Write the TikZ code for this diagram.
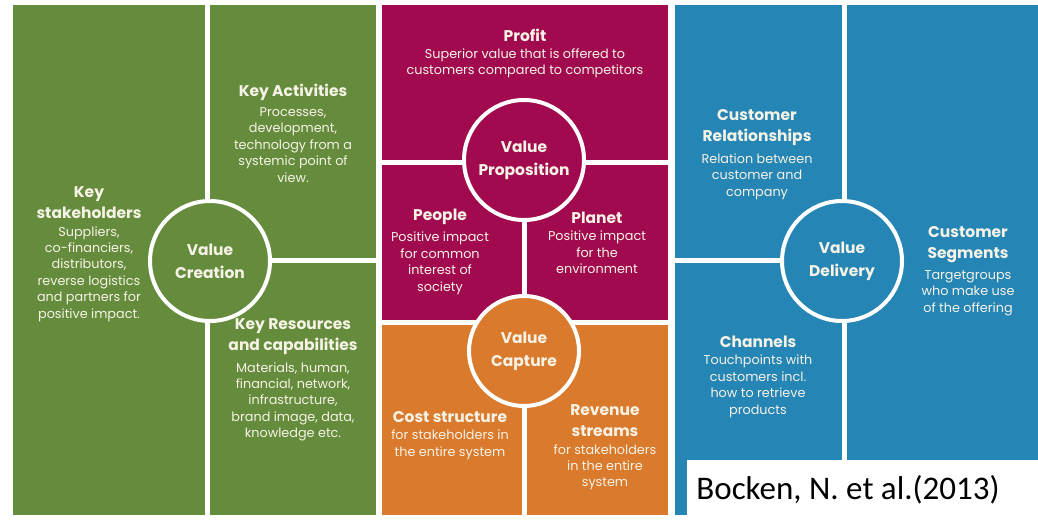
\documentclass[tikz,border=0pt]{standalone}
\usepackage{fontspec}
\setmainfont{Poppins}
\newfontfamily\citefont{Carlito}
\usetikzlibrary{positioning}
\definecolor{creationgreen}{HTML}{658C3D}
\definecolor{propmagenta}{HTML}{A10A4F}
\definecolor{captureorange}{HTML}{DA7A2C}
\definecolor{deliveryblue}{HTML}{2585B5}
\definecolor{lighttext}{HTML}{F6F3E6}
\tikzstyle{hub} = [circle, draw=white, line width=4pt, inner sep=0pt, minimum size=120pt,
align=center, text=lighttext, font=\bfseries\fontsize{15.5}{23}\selectfont]
\tikzstyle{head} = [align=center, inner sep=0pt, text=lighttext, font=\bfseries\fontsize{15.5}{21}\selectfont]
\tikzstyle{body} = [align=center, inner sep=0pt, text=lighttext, font=\fontsize{12.8}{16.4}\selectfont]

\begin{document}
\begin{tikzpicture}[x=1pt, y=-1pt]
    \useasboundingbox (0,0) rectangle (1038,520);

    % Fields
    \fill[creationgreen] (13,5) rectangle (205,515);
    \fill[creationgreen] (210,5) rectangle (376,258);
    \fill[creationgreen] (210,263) rectangle (376,515);
    \fill[propmagenta] (382,5) rectangle (668,160);
    \fill[propmagenta] (382,165) rectangle (522,320);
    \fill[propmagenta] (527,165) rectangle (668,320);
    \fill[captureorange] (382,325) rectangle (522,515);
    \fill[captureorange] (527,325) rectangle (668,515);
    \fill[deliveryblue] (675,5) rectangle (842,258);
    \fill[deliveryblue] (675,263) rectangle (842,515);
    \fill[deliveryblue] (847,5) rectangle (1038,515);

    % Circles
    \node [hub, fill=creationgreen] (creation) at (210,261) {Value\\Creation};
    \node [hub, fill=propmagenta] (proposition) at (524,160) {Value\\Proposition};
    \node [hub, fill=captureorange, minimum size=110pt] (capture) at (524,351) {Value\\Capture};
    \node [hub, fill=deliveryblue] (delivery) at (842,261) {Value\\Delivery};

    % Texts
    \node [head] (stakeholders) at (89,203) {Key\\stakeholders};
    \node [body, below=7pt of stakeholders] (stakeholderstxt) {Suppliers,\\co-financiers,\\distributors,\\reverse logistics\\and partners for\\positive impact.};
    \node [head] (activities) at (293,92) {Key Activities};
    \node [body, below=7pt of activities] (activitiestxt) {Processes,\\development,\\technology from a\\systemic point of\\view.};
    \node [head] (resources) at (293,337) {Key Resources\\and capabilities};
    \node [body, below=7pt of resources] (resourcestxt) {Materials, human,\\financial, network,\\infrastructure,\\brand image, data,\\knowledge etc.};
    \node [head] (profit) at (525,35) {Profit};
    \node [body, below=7pt of profit] (profittxt) {Superior value that is offered to\\customers compared to competitors};
    \node [head] (people) at (440,217) {People};
    \node [body, below=7pt of people] (peopletxt) {Positive impact\\for common\\interest of\\society};
    \node [head] (planet) at (597,218) {Planet};
    \node [body, below=7pt of planet] (planettxt) {Positive impact\\for the\\environment};
    \node [head] (cost) at (450,417) {Cost structure};
    \node [body, below=7pt of cost] (costtxt) {for stakeholders in\\the entire system};
    \node [head] (revenue) at (605,421) {Revenue\\streams};
    \node [body, below=7pt of revenue] (revenuetxt) {for stakeholders\\in the entire\\system};
    \node [head] (relationships) at (757,128) {Customer\\Relationships};
    \node [body, below=7pt of relationships] (relationshipstxt) {Relation between\\customer and\\company};
    \node [head] (segments) at (968,245) {Customer\\Segments};
    \node [body, below=7pt of segments] (segmentstxt) {Targetgroups\\who make use\\of the offering};
    \node [head] (channels) at (758,342) {Channels};
    \node [body, below=7pt of channels] (channelstxt) {Touchpoints with\\customers incl.\\how to retrieve\\products};

    % Source
    \fill[white] (687,460) rectangle (1038,520);
    \node [inner sep=0pt, font=\citefont\fontsize{33}{36}\selectfont] (source) at (848,490) {Bocken, N. et al.(2013)};
\end{tikzpicture}
\end{document}
